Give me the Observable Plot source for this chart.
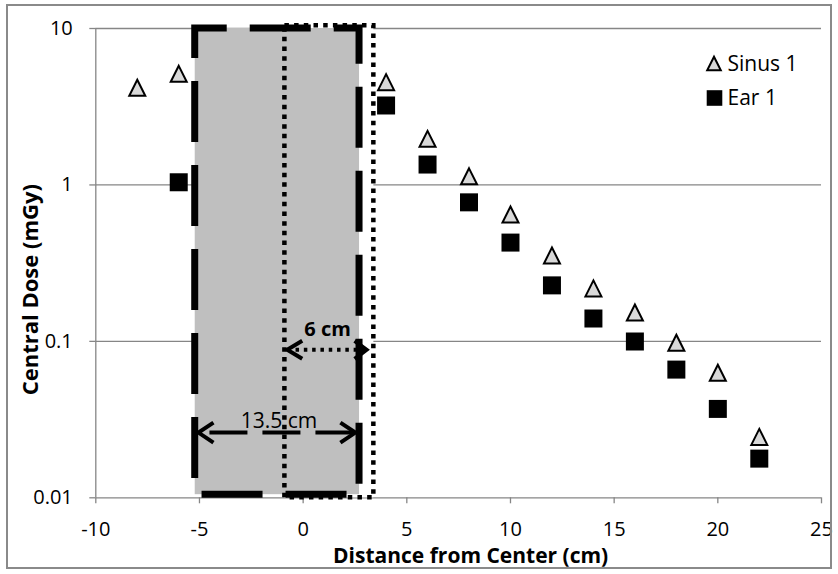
<!DOCTYPE html>
<html><head><meta charset="utf-8">
<script src="https://cdn.jsdelivr.net/npm/d3@7"></script>
<script src="https://cdn.jsdelivr.net/npm/@observablehq/plot@0.6"></script>
<style>
body{margin:0;background:#fff;}
#wrap{position:relative;width:838px;height:574px;}
#border{position:absolute;left:6px;top:4px;width:826px;height:565px;border:2px solid #8a8a8a;pointer-events:none;box-sizing:border-box;}
</style></head><body><div id="wrap"><div id="border"></div></div>
<script>
// ---- data ----
const sinusDistances = [-8, -6, 4, 6, 8, 10, 12, 14, 16, 18, 20, 22];
const sinus1 = [4.18, 5.13, 4.54, 1.97, 1.135, 0.647, 0.354, 0.218, 0.153, 0.098, 0.063, 0.0245];
const earDistances = [-6, 4, 6, 8, 10, 12, 14, 16, 18, 20, 22];
const ear1 = [1.04, 3.22, 1.35, 0.774, 0.428, 0.228, 0.14, 0.0998, 0.066, 0.037, 0.0178];
const seriesNames = ["Sinus 1", "Ear 1"];
const xTicks = [-10, -5, 0, 5, 10, 15, 20, 25];
const yTicks = [0.01, 0.1, 1, 10];
const yTickLabels = ["0.01", "0.1", "1", "10"];
const gridValues = [0.1, 1, 10];
const xTitle = "Distance from Center (cm)";
const yTitle = "Central Dose (mGy)";
// annotation shapes (data units)
const fieldBox = [{x1: -5.205, x2: 2.72, y1: 0.01047, y2: 10}];
const dottedBox = [{x1: -0.88, x2: 3.41, y1: 0.01, y2: 10.4}];
const arrow135 = [{x1: -5.05, x2: 2.52, y: 0.0261, label: "13.5 cm", lx: -1.163}];
const arrow6 = [{x1: -0.767, x2: 3.06, y: 0.0883, label: "6 cm", lx: 1.177}];
const yTitleAt = [{x: -10, y: 0.214}];

const sinusData = sinusDistances.map((d, i) => ({d, v: sinus1[i]}));
const earData = earDistances.map((d, i) => ({d, v: ear1[i]}));

const triSym = {draw(ctx, size) { const r = Math.sqrt(size / Math.PI); ctx.moveTo(0, -r); ctx.lineTo(r, r); ctx.lineTo(-r, r); ctx.closePath(); }};
const sqSym = {draw(ctx, size) { const r = Math.sqrt(size / Math.PI); ctx.moveTo(-r, -r); ctx.lineTo(r, -r); ctx.lineTo(r, r); ctx.lineTo(-r, r); ctx.closePath(); }};
const chevL = (a, b) => ({draw(ctx) { ctx.moveTo(a, -b); ctx.lineTo(0, 0); ctx.lineTo(a, b); }});
const chevR = (a, b) => ({draw(ctx) { ctx.moveTo(-a, -b); ctx.lineTo(0, 0); ctx.lineTo(-a, b); }});

const grey = "#868686";
const font = "'Open Sans', sans-serif";
const plot = Plot.plot({
  width: 838, height: 574,
  marginLeft: 95.3, marginRight: 17, marginTop: 28, marginBottom: 76.7,
  style: {fontFamily: font, background: "transparent", overflow: "visible", color: "black"},
  x: {domain: [-10, 25]},
  y: {type: "log", domain: [0.01, 10]},
  marks: [
    Plot.ruleY(gridValues, {stroke: grey, strokeWidth: 1.3}),
    Plot.ruleY([0.01], {stroke: grey, strokeWidth: 1.3}),
    Plot.ruleX([-10], {y1: 0.01, y2: 10, stroke: grey, strokeWidth: 1.3}),
    Plot.axisX(xTicks, {anchor: "bottom", tickSize: 6, tickPadding: 17.5, fontSize: 20, stroke: grey, strokeWidth: 1.3, fill: "black", label: null, tickFormat: d => String(d)}),
    Plot.axisY(yTicks, {anchor: "left", tickSize: 6, tickPadding: 17, fontSize: 20, stroke: grey, strokeWidth: 1.3, fill: "black", label: null, tickFormat: d => yTickLabels[yTicks.indexOf(d)]}),
    Plot.rect(dottedBox, {x1: "x1", x2: "x2", y1: "y1", y2: "y2", fill: "white"}),
    Plot.rect(fieldBox, {x1: "x1", x2: "x2", y1: "y1", y2: "y2", fill: "#bfbfbf", stroke: "black", strokeWidth: 7, strokeDasharray: "61,23", strokeDashoffset: 29, strokeLinejoin: "miter"}),
    Plot.rect(dottedBox, {x1: "x1", x2: "x2", y1: "y1", y2: "y2", fill: "none", stroke: "black", strokeWidth: 4.5, strokeDasharray: "4.5,5.2"}),
    // 13.5 cm arrow
    Plot.link(arrow135, {x1: "x1", x2: "x2", y1: "y", y2: "y", stroke: "black", strokeWidth: 4, strokeDasharray: "38,15", strokeDashoffset: 42}),
    Plot.dot(arrow135, {x: "x1", y: "y", symbol: chevL(15, 10), r: 1, fill: "none", stroke: "black", strokeWidth: 4}),
    Plot.dot(arrow135, {x: "x2", y: "y", symbol: chevR(15, 10), r: 1, fill: "none", stroke: "black", strokeWidth: 4}),
    Plot.text(arrow135, {x: "lx", y: "y", text: "label", dy: -5, lineAnchor: "bottom", fontSize: 21, fill: "black"}),
    // 6 cm arrow
    Plot.link(arrow6, {x1: "x1", x2: "x2", y1: "y", y2: "y", stroke: "black", strokeWidth: 4, strokeDasharray: "3.5,4.8"}),
    Plot.dot(arrow6, {x: "x1", y: "y", symbol: chevL(15, 9), r: 1, fill: "none", stroke: "black", strokeWidth: 4}),
    Plot.dot(arrow6, {x: "x2", y: "y", symbol: chevR(12, 9), r: 1, fill: "none", stroke: "black", strokeWidth: 4}),
    Plot.text(arrow6, {x: "lx", y: "y", text: "label", dy: -14, lineAnchor: "bottom", fontSize: 20, fontWeight: "bold", fill: "black"}),
    // data
    Plot.dot(sinusData, {x: "d", y: "v", symbol: triSym, r: 8, fill: "#d9d9d9", stroke: "black", strokeWidth: 2}),
    Plot.dot(earData, {x: "d", y: "v", symbol: sqSym, r: 9, fill: "black", stroke: "none"}),
    // legend
    Plot.dot({length: 1}, {frameAnchor: "top-left", dx: 618.2, dy: 35, symbol: triSym, r: 6.8, fill: "#d9d9d9", stroke: "black", strokeWidth: 2}),
    Plot.dot({length: 1}, {frameAnchor: "top-left", dx: 618.7, dy: 69.5, symbol: sqSym, r: 7.8, fill: "black", stroke: "none"}),
    Plot.text([seriesNames[0]], {frameAnchor: "top-left", dx: 631.7, dy: 35.4, textAnchor: "start", lineAnchor: "middle", fontSize: 21, fill: "black"}),
    Plot.text([seriesNames[1]], {frameAnchor: "top-left", dx: 631.7, dy: 70, textAnchor: "start", lineAnchor: "middle", fontSize: 21, fill: "black"}),
    // axis titles
    Plot.text([xTitle], {frameAnchor: "bottom", dx: 12, dy: 65.5, lineAnchor: "bottom", fontSize: 21, fontWeight: "bold", fill: "black"}),
    Plot.text(yTitleAt, {x: "x", y: "y", text: () => yTitle, rotate: -90, dx: -58, lineAnchor: "bottom", fontSize: 22, fontWeight: "bold", fill: "black"})
  ]
});
document.getElementById("wrap").prepend(plot);
</script></body></html>
